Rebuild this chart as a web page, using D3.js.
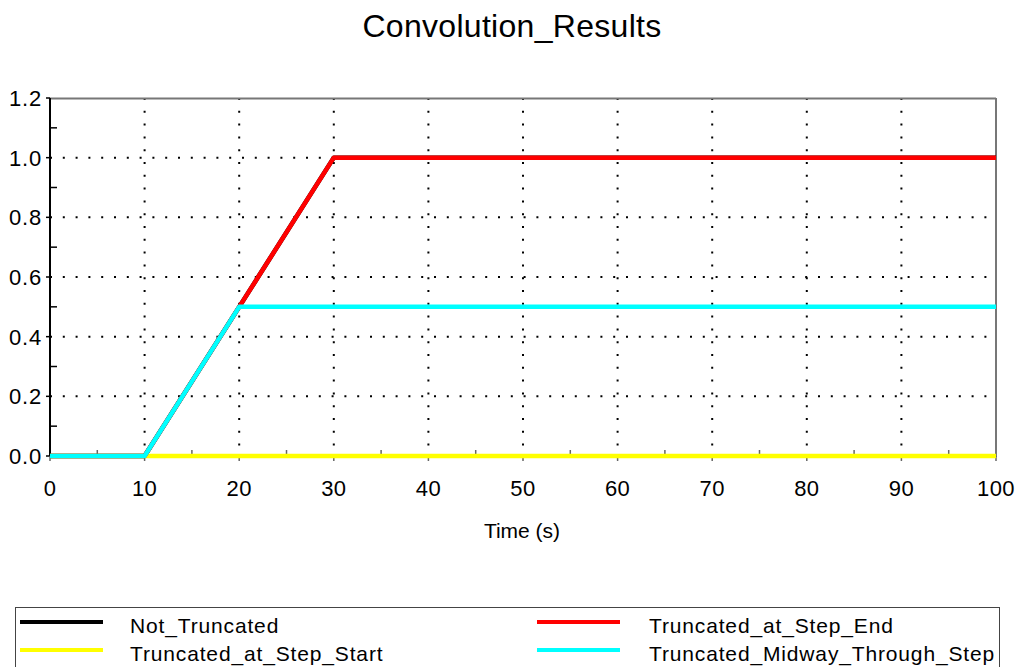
<!DOCTYPE html>
<html><head><meta charset="utf-8">
<script src="https://cdn.jsdelivr.net/npm/d3@7/dist/d3.min.js"></script>
<style>body{margin:0;background:#fff}svg{display:block;font-family:"Liberation Sans",Arial,sans-serif}</style>
</head><body>
<script>
const time = [0, 10, 20, 30, 100];
const notTruncated = [0, 0, 0.5, 1, 1];
const truncStepStart = [0, 0, 0, 0, 0];
const truncStepEnd = [0, 0, 0.5, 1, 1];
const truncMidway = [0, 0, 0.5, 0.5, 0.5];
const seriesNames = ["Not_Truncated", "Truncated_at_Step_Start", "Truncated_at_Step_End", "Truncated_Midway_Through_Step"];
const seriesColors = ["#000000", "#ffff00", "#ff0000", "#00ffff"];
const xTicks = [0,10,20,30,40,50,60,70,80,90,100];
const yTicks = [0,0.2,0.4,0.6,0.8,1.0,1.2];

const W = 1019, H = 667;
const svg = d3.select("body").append("svg").attr("width", W).attr("height", H);
const x = d3.scaleLinear().domain([0,100]).range([50,996]);
const y = d3.scaleLinear().domain([0,1.2]).range([456,98]);

svg.append("text").attr("x", 512).attr("y", 37).attr("text-anchor","middle")
  .attr("font-size", 32).attr("letter-spacing", 0.3).text("Convolution_Results");

// grid
const g = svg.append("g");
g.selectAll("line.hg").data(yTicks.filter(d=>d>0 && d<1.2)).join("line")
  .attr("x1", 50).attr("x2", 996).attr("y1", d=>y(d)).attr("y2", d=>y(d))
  .attr("stroke","#000").attr("stroke-width",2).attr("stroke-dasharray","2,10.8");
g.selectAll("line.vg").data(xTicks.filter(d=>d>0 && d<100)).join("line")
  .attr("y1", 98).attr("y2", 456).attr("x1", d=>x(d)).attr("x2", d=>x(d))
  .attr("stroke","#000").attr("stroke-width",2).attr("stroke-dasharray","2,10.8");

// frame
svg.append("line").attr("x1",50).attr("x2",996).attr("y1",98.5).attr("y2",98.5).attr("stroke","#777").attr("stroke-width",2);
svg.append("line").attr("x1",996).attr("x2",996).attr("y1",98).attr("y2",457).attr("stroke","#777").attr("stroke-width",2);
svg.append("line").attr("x1",50).attr("x2",996).attr("y1",456).attr("y2",456).attr("stroke","#777").attr("stroke-width",1.5);
svg.append("line").attr("x1",50).attr("x2",50).attr("y1",98).attr("y2",457).attr("stroke","#000").attr("stroke-width",2);

// y axis ticks
const yMinor = d3.range(0.1, 1.2, 0.2);
svg.selectAll("line.ymaj").data(yTicks).join("line")
  .attr("x1",46).attr("x2",50).attr("y1",d=>y(d)).attr("y2",d=>y(d)).attr("stroke","#000").attr("stroke-width",1.5);
svg.selectAll("line.ymin").data(yMinor).join("line")
  .attr("x1",50).attr("x2",57).attr("y1",d=>y(d)).attr("y2",d=>y(d)).attr("stroke","#000").attr("stroke-width",1.5);
svg.selectAll("text.yl").data(yTicks).join("text")
  .attr("x",42).attr("y",d=>y(d)+8).attr("text-anchor","end").attr("font-size",22).attr("letter-spacing",0.8)
  .text(d=>d3.format(".1f")(d));

// x axis ticks
const xMinor = d3.range(5, 100, 10);
svg.selectAll("line.xmaj").data(xTicks).join("line")
  .attr("x1",d=>x(d)).attr("x2",d=>x(d)).attr("y1",456).attr("y2",461).attr("stroke","#666").attr("stroke-width",1.5);
svg.selectAll("line.xmin").data(xMinor).join("line")
  .attr("x1",d=>x(d)).attr("x2",d=>x(d)).attr("y1",456).attr("y2",450).attr("stroke","#666").attr("stroke-width",1.5);
svg.selectAll("text.xl").data(xTicks).join("text")
  .attr("x",d=>x(d)).attr("y",496).attr("text-anchor","middle").attr("font-size",22).attr("letter-spacing",0.4)
  .text(d=>d);
svg.append("text").attr("x",522).attr("y",538).attr("text-anchor","middle").attr("font-size",21).text("Time (s)");

// series
const allSeries = [notTruncated, truncStepStart, truncStepEnd, truncMidway];
const line = d3.line().x((d,i)=>x(time[i])).y(d=>y(d));
allSeries.forEach((s,i)=>{
  svg.append("path").datum(s).attr("d", line).attr("fill","none")
    .attr("stroke", seriesColors[i]).attr("stroke-width",4.5).attr("stroke-linejoin","round");
});

// legend
svg.append("rect").attr("x",15.5).attr("y",607.5).attr("width",984).attr("height",80)
  .attr("fill","none").attr("stroke","#444").attr("stroke-width",1);
const legPos = [[20,130,622],[20,130,650],[537,649,622],[537,649,650]];
seriesNames.forEach((n,i)=>{
  const [lx, tx, ly] = legPos[i];
  svg.append("line").attr("x1",lx).attr("x2",lx+83).attr("y1",ly).attr("y2",ly)
    .attr("stroke",seriesColors[i]).attr("stroke-width",4);
  svg.append("text").attr("x",tx).attr("y",ly+11).attr("font-size",21).attr("letter-spacing",0.85).text(n);
});
</script>
</body></html>
